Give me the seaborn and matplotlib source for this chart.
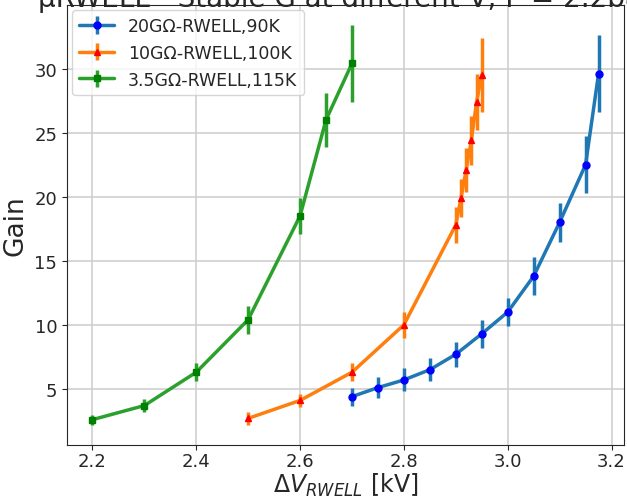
import matplotlib
matplotlib.use("Agg")
import matplotlib.pyplot as plt
import seaborn as sns

# 20GOhm - RWELL, 90K
v_20g = [2.7, 2.75, 2.8, 2.85, 2.9, 2.95, 3.0, 3.05, 3.1, 3.15, 3.175]
gain_20g = [4.4, 5.1, 5.7, 6.5, 7.7, 9.3, 11.0, 13.8, 18.0, 22.5, 29.6]
err_20g = [0.7, 0.8, 0.9, 0.9, 1.0, 1.1, 1.1, 1.5, 1.5, 2.2, 3.0]

# 10GOhm - RWELL, 100K
v_10g = [2.5, 2.6, 2.7, 2.8, 2.9, 2.91, 2.92, 2.93, 2.94, 2.95]
gain_10g = [2.7, 4.1, 6.3, 10.0, 17.8, 19.9, 22.1, 24.4, 27.4, 29.5]
err_10g = [0.5, 0.5, 0.7, 1.0, 1.4, 1.5, 1.7, 1.9, 2.2, 2.9]

# 3.5GOhm - RWELL, 115K
v_35g = [2.2, 2.3, 2.4, 2.5, 2.6, 2.65, 2.7]
gain_35g = [2.6, 3.7, 6.3, 10.4, 18.5, 26.0, 30.4]
err_35g = [0.4, 0.5, 0.7, 1.1, 1.4, 2.1, 3.0]

sns.set_style("ticks")
pal = sns.color_palette("tab10")

fig, ax = plt.subplots(figsize=(6.27, 5.02), dpi=100)

ax.errorbar(v_20g, gain_20g, yerr=err_20g, color=pal[0], marker='o', markersize=5,
            markerfacecolor='blue', markeredgecolor='blue', lw=2.5, elinewidth=2.5,
            label='20GΩ-RWELL,90K')
ax.errorbar(v_10g, gain_10g, yerr=err_10g, color=pal[1], marker='^', markersize=5,
            markerfacecolor='red', markeredgecolor='red', lw=2.5, elinewidth=2.5,
            label='10GΩ-RWELL,100K')
ax.errorbar(v_35g, gain_35g, yerr=err_35g, color=pal[2], marker='s', markersize=5,
            markerfacecolor='green', markeredgecolor='green', lw=2.5, elinewidth=2.5,
            label='3.5GΩ-RWELL,115K')

ax.grid(True, color='#d0d0d0', lw=1.2)
ax.tick_params(labelsize=13)
ax.tick_params(axis='x', pad=2)
ax.set_xlabel(r'$\Delta V_{RWELL}$ [kV]', fontsize=17, labelpad=0)
ax.set_ylabel('Gain', fontsize=19)
ax.set_title('μRWELL - Stable G at different V, P = 2.2bar', fontsize=20, y=1.0, pad=-1)
ax.legend(loc='upper left', fontsize=12.5, borderaxespad=0.3)

fig.subplots_adjust(left=0.107, right=0.995, top=0.988, bottom=0.112)
fig.savefig("out.png", dpi=100)
